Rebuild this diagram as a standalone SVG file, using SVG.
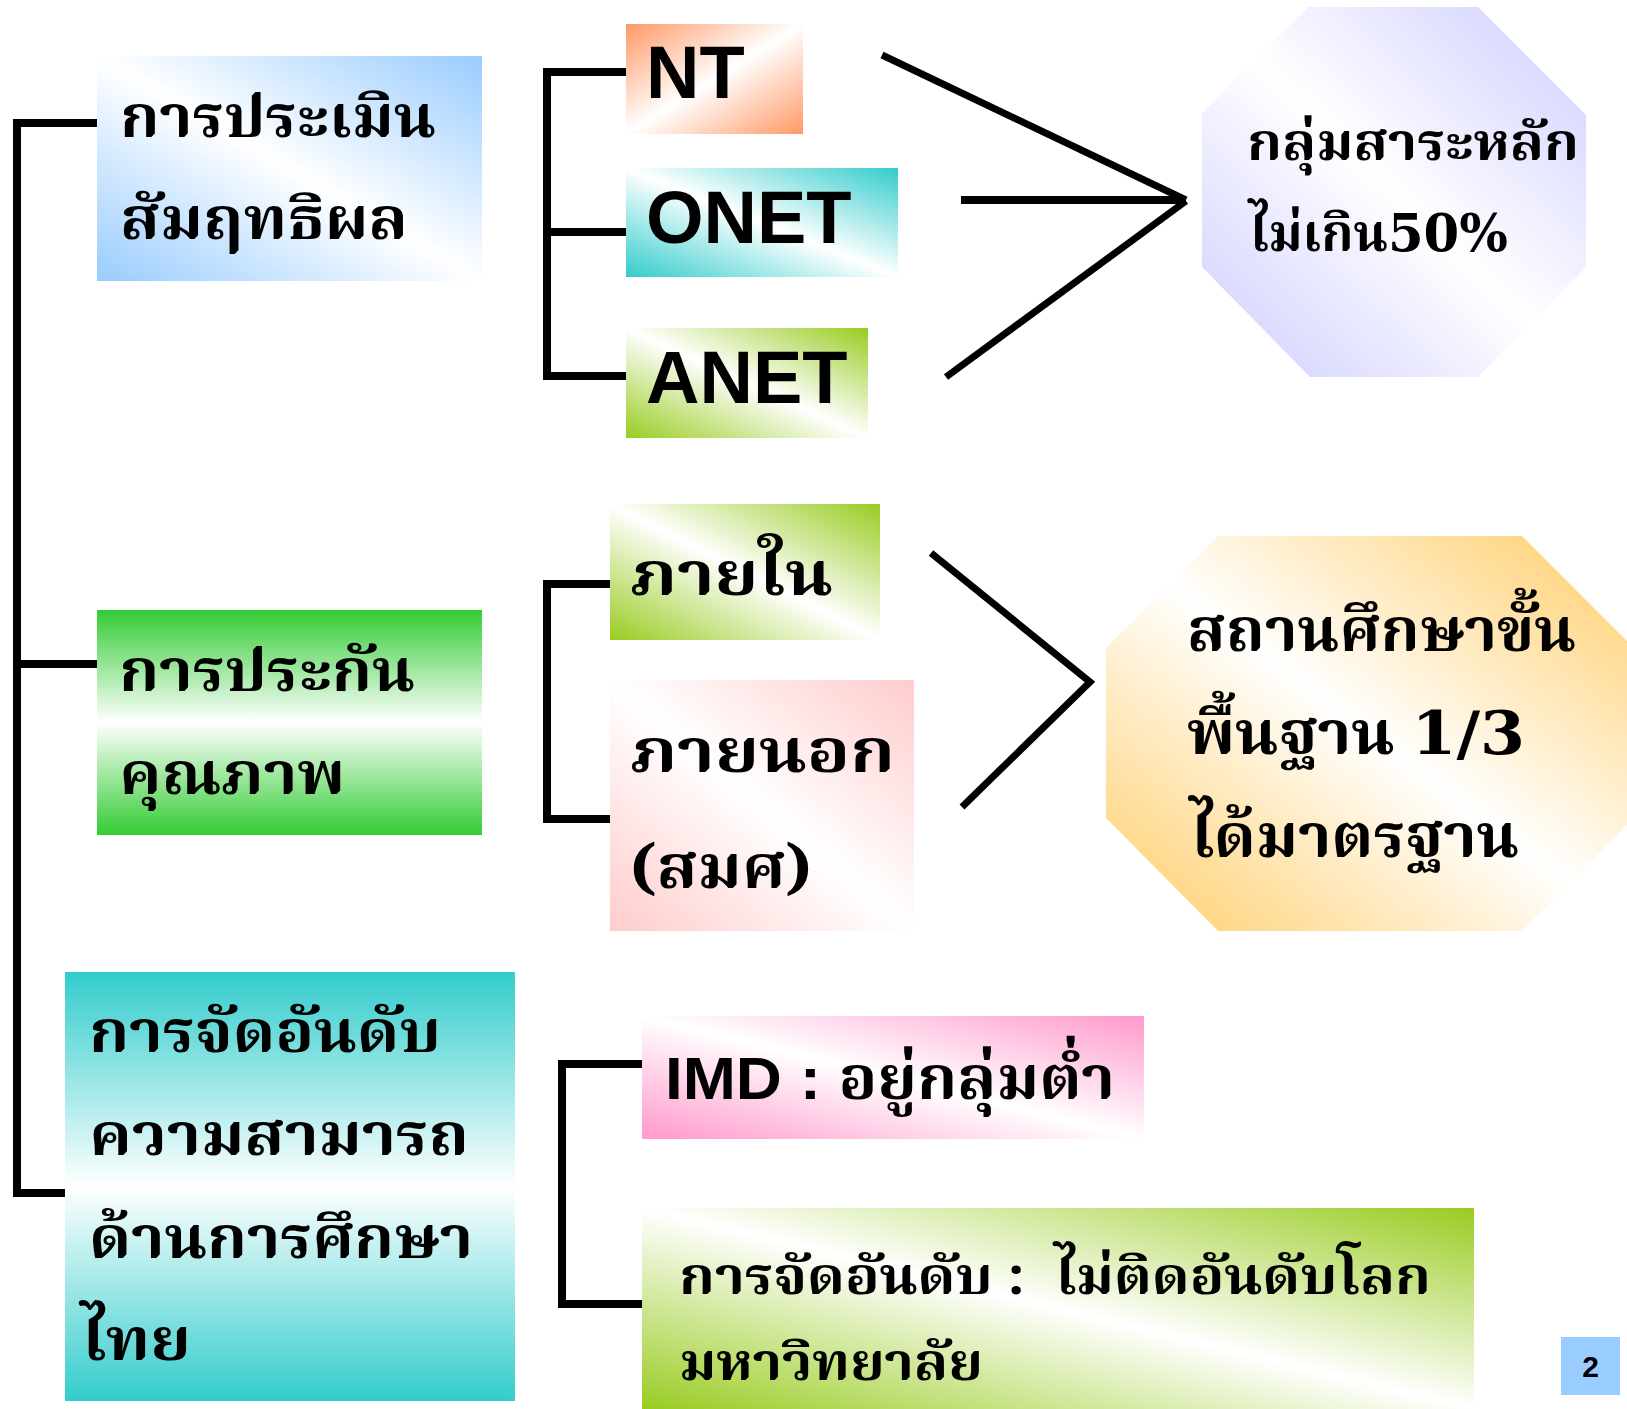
<svg xmlns="http://www.w3.org/2000/svg" width="1627" height="1409" viewBox="0 0 1627 1409">
<defs>
<style>
.ln{stroke:#000;stroke-width:8;fill:none;stroke-linecap:butt;stroke-linejoin:miter}
.dg{stroke:#000;stroke-width:7;fill:none}
.th{font-family:"Noto Serif Thai","Noto Sans Thai","Loma","Garuda","Norasi",serif;font-weight:bold;fill:#000}
.en{font-family:"Liberation Sans","Noto Serif Thai","Noto Sans Thai",sans-serif;font-weight:bold;fill:#000}
.dj{font-family:"DejaVu Serif",serif;font-weight:bold}
</style>
<linearGradient id="gBlue" x1="1" y1="0" x2="0" y2="1"><stop offset="0" stop-color="#99ccff"/><stop offset="0.5" stop-color="#fff"/><stop offset="1" stop-color="#99ccff"/></linearGradient>
<linearGradient id="gOrange" x1="0" y1="0" x2="1" y2="1"><stop offset="0" stop-color="#ff9966"/><stop offset="0.5" stop-color="#fff"/><stop offset="1" stop-color="#ff9966"/></linearGradient>
<linearGradient id="gTeal" x1="1" y1="0" x2="0" y2="1"><stop offset="0" stop-color="#33cccc"/><stop offset="0.5" stop-color="#fff"/><stop offset="1" stop-color="#33cccc"/></linearGradient>
<linearGradient id="gLime" x1="1" y1="0" x2="0" y2="1"><stop offset="0" stop-color="#99cc22"/><stop offset="0.5" stop-color="#fff"/><stop offset="1" stop-color="#99cc22"/></linearGradient>
<linearGradient id="gLav" x1="1" y1="0" x2="0" y2="1"><stop offset="0" stop-color="#ccccff"/><stop offset="0.5" stop-color="#fff"/><stop offset="1" stop-color="#ccccff"/></linearGradient>
<linearGradient id="gGreenV" x1="0" y1="0" x2="0" y2="1"><stop offset="0" stop-color="#33cc33"/><stop offset="0.5" stop-color="#fff"/><stop offset="1" stop-color="#33cc33"/></linearGradient>
<linearGradient id="gPink" x1="1" y1="0" x2="0" y2="1"><stop offset="0" stop-color="#ffcccc"/><stop offset="0.5" stop-color="#fff"/><stop offset="1" stop-color="#ffcccc"/></linearGradient>
<linearGradient id="gYellow" x1="1" y1="0" x2="0" y2="1"><stop offset="0" stop-color="#ffcc66"/><stop offset="0.5" stop-color="#fff"/><stop offset="1" stop-color="#ffcc66"/></linearGradient>
<linearGradient id="gTealV" x1="0" y1="0" x2="0" y2="1"><stop offset="0" stop-color="#33cccc"/><stop offset="0.5" stop-color="#fff"/><stop offset="1" stop-color="#33cccc"/></linearGradient>
<linearGradient id="gRose" x1="1" y1="0" x2="0" y2="1"><stop offset="0" stop-color="#ff99cc"/><stop offset="0.5" stop-color="#fff"/><stop offset="1" stop-color="#ff99cc"/></linearGradient>
</defs>
<rect width="1627" height="1409" fill="#fff"/>

<g id="connectors">
<polyline class="ln" points="97,123 17,123 17,1193 65,1193"/>
<line class="ln" x1="17" y1="664" x2="97" y2="664"/>
<polyline class="ln" points="626,72 547,72 547,376 626,376"/>
<line class="ln" x1="547" y1="232" x2="626" y2="232"/>
<polyline class="ln" points="610,584 547,584 547,819 610,819"/>
<polyline class="ln" points="642,1064 562,1064 562,1304 642,1304"/>
<line class="dg" x1="882" y1="55" x2="1186" y2="200"/>
<line class="ln" x1="961" y1="200" x2="1186" y2="200"/>
<line class="dg" x1="946" y1="377" x2="1186" y2="201"/>
<polyline class="dg" points="931,553 1090,682 962,807"/>
</g>

<g id="n-assess">
<rect x="97" y="56" width="385" height="225" fill="url(#gBlue)"/>
<text class="th" font-size="58" x="120" y="137" textLength="316" lengthAdjust="spacingAndGlyphs">การประเมิน</text>
<text class="th" font-size="58" x="120" y="239" textLength="288" lengthAdjust="spacingAndGlyphs">สัมฤทธิผล</text>
</g>

<g id="n-nt">
<rect x="626" y="24" width="177" height="110" fill="url(#gOrange)"/>
<text class="en" font-size="74" x="646" y="98">NT</text>
</g>
<g id="n-onet">
<rect x="626" y="168" width="272" height="109" fill="url(#gTeal)"/>
<text class="en" font-size="74" x="646" y="243">ONET</text>
</g>
<g id="n-anet">
<rect x="626" y="328" width="242" height="110" fill="url(#gLime)"/>
<text class="en" font-size="74" x="646" y="403">ANET</text>
</g>

<g id="n-core">
<polygon points="1308,7 1478,7 1586,115 1586,267 1478,377 1310,377 1202,267 1202,113" fill="url(#gLav)"/>
<text class="th" font-size="52" x="1247" y="160" textLength="332" lengthAdjust="spacingAndGlyphs">กลุ่มสาระหลัก</text>
<text class="th" font-size="52" x="1249" y="251" textLength="259" lengthAdjust="spacingAndGlyphs">ไม่เกิน<tspan class="dj">50%</tspan></text>
</g>

<g id="n-qa">
<rect x="97" y="610" width="385" height="225" fill="url(#gGreenV)"/>
<text class="th" font-size="58" x="119" y="691" textLength="296" lengthAdjust="spacingAndGlyphs">การประกัน</text>
<text class="th" font-size="58" x="119" y="794" textLength="226" lengthAdjust="spacingAndGlyphs">คุณภาพ</text>
</g>

<g id="n-internal">
<rect x="610" y="504" width="270" height="136" fill="url(#gLime)"/>
<text class="th" font-size="60" x="630" y="595" textLength="203" lengthAdjust="spacingAndGlyphs">ภายใน</text>
</g>
<g id="n-external">
<rect x="610" y="680" width="304" height="251" fill="url(#gPink)"/>
<text class="th" font-size="60" x="630" y="772" textLength="265" lengthAdjust="spacingAndGlyphs">ภายนอก</text>
<text class="th" font-size="60" x="630" y="888" textLength="182" lengthAdjust="spacingAndGlyphs">(สมศ)</text>
</g>

<g id="n-standard">
<polygon points="1218,536 1522,536 1634,648 1634,818 1522,931 1218,931 1106,818 1106,648" fill="url(#gYellow)"/>
<text class="th" font-size="60" x="1187" y="651" textLength="389" lengthAdjust="spacingAndGlyphs">สถานศึกษาขั้น</text>
<text class="th" font-size="60" x="1187" y="754" textLength="338" lengthAdjust="spacingAndGlyphs">พื้นฐาน <tspan class="dj">1/3</tspan></text>
<text class="th" font-size="60" x="1190" y="857" textLength="329" lengthAdjust="spacingAndGlyphs">ได้มาตรฐาน</text>
</g>

<g id="n-rank">
<rect x="65" y="972" width="450" height="429" fill="url(#gTealV)"/>
<text class="th" font-size="58" x="89" y="1052" textLength="352" lengthAdjust="spacingAndGlyphs">การจัดอันดับ</text>
<text class="th" font-size="58" x="89" y="1155" textLength="380" lengthAdjust="spacingAndGlyphs">ความสามารถ</text>
<text class="th" font-size="58" x="89" y="1258" textLength="384" lengthAdjust="spacingAndGlyphs">ด้านการศึกษา</text>
<text class="th" font-size="58" x="81" y="1360" textLength="110" lengthAdjust="spacingAndGlyphs">ไทย</text>
</g>

<g id="n-imd">
<rect x="642" y="1016" width="502" height="123" fill="url(#gRose)"/>
<text class="en" font-size="60" x="665" y="1099" textLength="450" lengthAdjust="spacingAndGlyphs">IMD : <tspan class="th">อยู่กลุ่มต่ำ</tspan></text>
</g>

<g id="n-uni">
<rect x="642" y="1208" width="832" height="201" fill="url(#gLime)"/>
<text class="th" font-size="52" x="679" y="1294" xml:space="preserve" textLength="752" lengthAdjust="spacingAndGlyphs">การจัดอันดับ :  ไม่ติดอันดับโลก</text>
<text class="th" font-size="52" x="679" y="1380" textLength="304" lengthAdjust="spacingAndGlyphs">มหาวิทยาลัย</text>
</g>

<g id="page-num">
<rect x="1561" y="1337" width="59" height="58" fill="#99ccff"/>
<text class="en" font-size="30" x="1590.5" y="1377" text-anchor="middle">2</text>
</g>
</svg>
